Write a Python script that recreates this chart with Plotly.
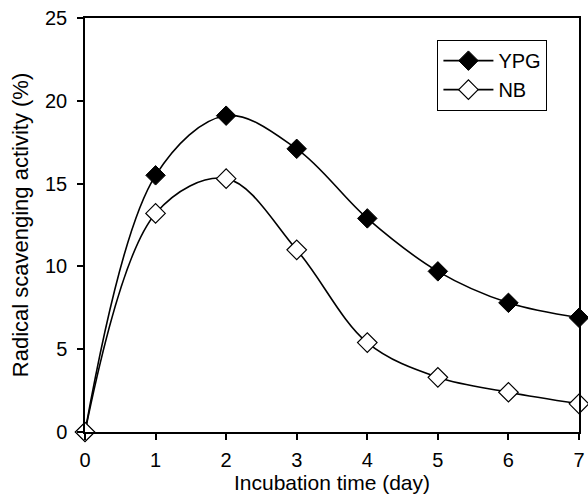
import plotly.graph_objects as go

days = [0, 1, 2, 3, 4, 5, 6, 7]
ypg = [0, 15.5, 19.1, 17.1, 12.9, 9.7, 7.8, 6.9]
nb = [0, 13.2, 15.3, 11.0, 5.4, 3.3, 2.4, 1.7]

FONT = 'Liberation Sans, Arial'

fig = go.Figure()
fig.add_trace(go.Scatter(
    x=days, y=ypg, name='YPG', mode='lines+markers',
    line=dict(color='black', width=1.6, shape='spline', smoothing=1.0),
    marker=dict(symbol='diamond', size=15, color='black', line=dict(color='black', width=1)),
    cliponaxis=False
))
fig.add_trace(go.Scatter(
    x=days, y=nb, name='NB', mode='lines+markers',
    line=dict(color='black', width=1.6, shape='spline', smoothing=1.0),
    marker=dict(symbol='diamond', size=15, color='white', line=dict(color='black', width=1.2)),
    cliponaxis=False
))

axis_common = dict(
    showline=True, linecolor='black', linewidth=1.5, mirror=True,
    ticks='outside', ticklen=6, tickcolor='black', tickwidth=1.5,
    showgrid=False, zeroline=False, automargin=False,
    ticklabeloverflow='allow',
    tickfont=dict(family=FONT, size=20, color='black'),
)

fig.update_layout(
    width=588, height=495,
    margin=dict(l=85, r=9, t=18, b=63),
    paper_bgcolor='white', plot_bgcolor='white',
    font=dict(family=FONT, color='black'),
    xaxis=dict(range=[0, 7], dtick=1, ticklabelstandoff=3, **axis_common,
               title=dict(text='Incubation time (day)', font=dict(size=21), standoff=4)),
    yaxis=dict(range=[0, 25], dtick=5, ticklabelstandoff=6, **axis_common,
               title=dict(text='Radical scavenging activity (%)', font=dict(size=22), standoff=10)),
    legend=dict(x=0.713, y=0.947, xanchor='left', yanchor='top',
                bordercolor='black', borderwidth=1.2, bgcolor='white',
                font=dict(size=20), itemwidth=50, tracegroupgap=0),
    showlegend=True,
)

# drop the default 8px body margin so the figure fills the window exactly
fig.write_html("out.html", config={'displayModeBar': False},
               post_script="document.body.style.margin='0';document.body.style.overflow='hidden';")
